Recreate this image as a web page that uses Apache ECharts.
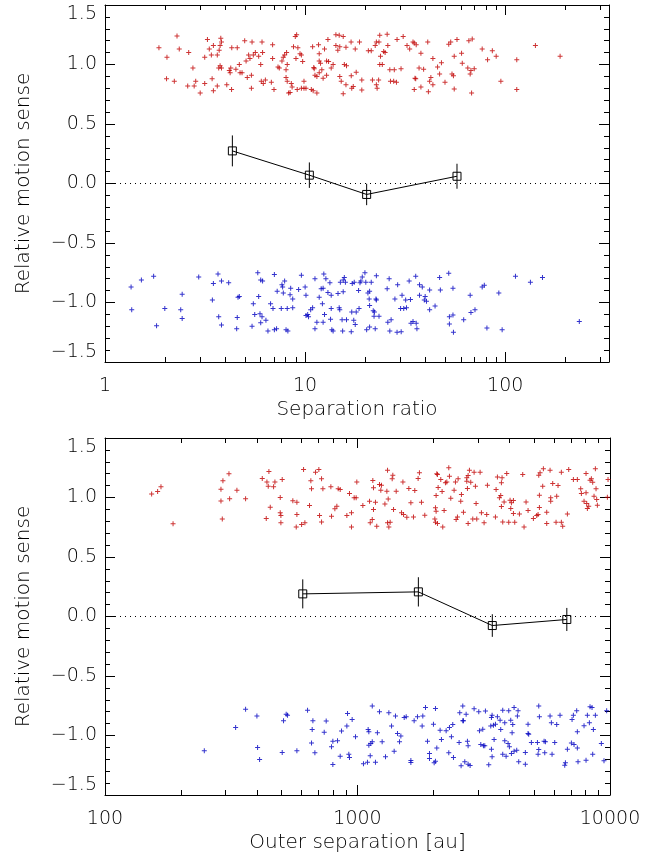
<!DOCTYPE html>
<html><head><meta charset="utf-8">
<script src="https://cdn.jsdelivr.net/npm/echarts@6/dist/echarts.min.js"></script>
<style>html,body{margin:0;padding:0;background:#fff}#c{width:667px;height:860px}</style>
</head><body><div id="c"></div>
<script>
// ---------- data ----------
const yTickValues = [-1.5, -1, -0.5, 0, 0.5, 1, 1.5];
const topXTicks = [1, 10, 100];
const topXMinor = [2,3,4,5,6,7,8,9,20,30,40,50,60,70,80,90,200,300];
const botXTicks = [100, 1000, 10000];
const botXMinor = [200,300,400,500,600,700,800,900,2000,3000,4000,5000,6000,7000,8000,9000];
const topXTitle = 'Separation ratio';
const botXTitle = 'Outer separation [au]';
const yTitle = 'Relative motion sense';

const topBinX = [4.33, 10.5, 20.3, 57.4];
const topBinY = [0.274, 0.07, -0.092, 0.061];
const topBinErr = [0.13, 0.107, 0.09, 0.105];
const botBinX = [607, 1742, 3419, 6745];
const botBinY = [0.19, 0.207, -0.076, -0.025];
const botBinErr = [0.122, 0.123, 0.095, 0.097];

const topRed = [[1.86,1.14],[2.29,1.24],[2.04,1.06],[2.35,1.13],[2.03,0.88],[2.22,0.86],[2.62,1.10],[2.59,0.82],[2.75,0.97],[2.79,0.82],[2.84,0.86],[2.99,0.76],[3.15,1.06],[3.15,0.84],[3.25,1.21],[3.32,1.13],[3.43,0.88],[3.40,1.08],[3.48,1.16],[3.48,0.78],[3.64,1.08],[3.64,0.82],[3.70,0.97],[3.72,1.12],[3.76,1.16],[3.79,1.22],[3.82,1.19],[3.76,0.99],[3.82,0.97],[4.06,0.83],[4.18,0.95],[4.22,0.93],[4.25,0.97],[4.29,0.79],[4.30,1.14],[4.51,0.96],[4.58,1.14],[4.69,1.00],[4.73,0.93],[4.84,0.93],[4.99,1.20],[5.07,1.03],[5.14,0.89],[5.22,1.08],[5.30,1.05],[5.39,0.80],[5.43,1.19],[5.51,1.08],[5.39,0.91],[5.64,1.10],[5.86,1.07],[6.00,1.00],[6.04,0.86],[6.09,1.19],[6.13,1.10],[6.33,0.87],[6.18,0.84],[6.78,0.85],[6.88,1.165],[6.88,1.05],[6.99,0.79],[7.32,0.98],[7.43,0.97],[7.66,1.03],[7.78,1.06],[7.90,1.08],[8.03,0.955],[8.08,1.10],[8.14,1.00],[8.03,0.89],[8.14,0.86],[8.27,0.76],[8.53,0.84],[8.41,0.765],[8.61,0.81],[8.75,1.15],[8.93,1.235],[9.07,1.25],[9.0,1.05],[9.2,1.14],[9.43,1.09],[9.58,1.08],[9.72,1.025],[9.87,0.86],[9.13,0.79],[9.58,0.80],[9.87,0.80],[10.1,0.80],[10.74,0.79],[10.97,0.78],[11.45,0.76],[10.9,1.15],[11.05,0.975],[11.1,0.965],[11.2,0.91],[11.45,0.90],[11.67,1.165],[11.76,1.09],[11.76,1.03],[11.76,0.93],[11.94,1.01],[12.12,0.955],[12.3,0.885],[12.5,1.13],[12.8,1.03],[12.8,0.91],[13.0,1.21],[13.1,1.025],[13.5,0.97],[13.8,1.00],[14.25,1.25],[14.25,1.16],[14.57,1.12],[14.8,1.245],[14.9,1.15],[14.9,0.90],[15.15,0.86],[15.5,1.235],[15.5,0.755],[15.7,1.00],[16.0,1.145],[16.0,0.83],[16.1,0.99],[16.97,1.19],[17.1,0.80],[17.0,0.905],[17.4,0.815],[17.8,1.13],[18.0,0.935],[18.7,1.19],[19.2,0.87],[19.2,0.785],[20.7,1.115],[21.4,1.115],[21.7,0.87],[22.4,1.16],[22.7,1.19],[22.7,0.83],[22.9,0.80],[23.3,0.87],[23.6,1.245],[23.4,1.19],[23.8,1.07],[23.6,1.00],[24.3,1.00],[24.7,1.11],[25.1,1.10],[25.7,1.255],[25.9,1.16],[26.5,0.955],[26.7,0.86],[27.7,0.86],[27.9,0.955],[28.6,0.85],[28.8,1.21],[30.15,0.965],[30.9,1.235],[32.3,1.16],[33.3,1.13],[34.6,1.19],[35.1,1.18],[35.4,0.885],[35.7,0.88],[35.9,1.165],[35.1,0.79],[37.1,0.97],[37.9,1.095],[37.9,0.81],[39.1,0.96],[41.0,1.19],[41.3,0.77],[41.9,0.86],[42.5,0.89],[43.5,0.83],[43.5,1.05],[45.9,0.98],[47.0,0.92],[48.0,1.015],[50.0,0.85],[52.2,1.17],[53.4,1.19],[54.2,0.92],[55.1,0.905],[55.6,1.07],[55.6,0.795],[57.4,1.21],[60.5,1.095],[61.0,1.01],[65.0,0.97],[65.8,1.20],[66.8,0.92],[67.4,0.95],[68.4,1.215],[70.0,0.965],[67.9,0.76],[76.7,1.13],[81.6,1.04],[86.2,1.115],[90.1,1.07],[95.1,0.86],[114.2,1.04],[114.2,0.79],[141.5,1.16],[188,1.07]];

const topBlue = [[1.35,-0.87],[1.36,-1.06],[1.52,-0.81],[1.75,-0.78],[1.81,-1.195],[1.99,-1.05],[2.39,-1.06],[2.43,-0.93],[2.43,-1.135],[2.94,-0.785],[3.44,-0.98],[3.48,-0.84],[3.67,-0.76],[3.70,-1.12],[3.82,-0.82],[3.82,-1.19],[4.15,-0.835],[4.55,-1.22],[4.58,-1.125],[4.62,-0.955],[4.69,-0.95],[5.43,-1.20],[5.51,-1.01],[5.60,-1.10],[5.80,-0.75],[5.86,-0.95],[5.95,-1.095],[6.00,-0.81],[6.00,-1.17],[6.13,-0.82],[6.09,-1.12],[6.37,-1.15],[6.52,-1.24],[6.72,-1.01],[6.91,-1.05],[7.02,-1.23],[7.02,-0.765],[7.2,-1.22],[7.25,-0.905],[7.6,-1.05],[7.66,-0.85],[7.72,-0.87],[7.78,-0.92],[7.9,-0.82],[8.03,-1.23],[8.14,-1.05],[8.2,-1.24],[8.41,-0.935],[8.47,-0.88],[8.67,-0.97],[8.67,-1.045],[9.28,-0.89],[9.58,-0.77],[10.0,-0.87],[10.1,-0.94],[10.1,-1.11],[10.3,-1.10],[10.4,-1.12],[10.66,-1.06],[10.9,-1.045],[11.2,-0.80],[11.2,-1.22],[11.45,-1.165],[11.76,-0.955],[12.03,-0.885],[12.2,-1.01],[12.3,-1.165],[12.4,-0.76],[12.5,-1.10],[12.3,-0.88],[12.7,-0.80],[13.0,-0.915],[13.3,-0.835],[13.4,-1.14],[13.5,-0.94],[13.5,-1.05],[13.6,-1.23],[13.8,-1.24],[14.6,-0.925],[14.8,-1.045],[14.9,-1.06],[15.0,-0.83],[15.3,-1.145],[15.4,-1.24],[15.5,-0.91],[15.5,-0.81],[15.7,-0.79],[15.9,-0.83],[16.1,-1.145],[17.0,-1.245],[17.1,-1.08],[17.2,-0.84],[17.5,-1.15],[17.6,-0.83],[17.8,-1.185],[18.0,-1.08],[18.5,-0.90],[18.6,-1.05],[18.8,-0.835],[19.0,-0.82],[19.3,-0.785],[19.9,-0.75],[20.1,-0.83],[20.3,-1.23],[20.6,-0.92],[20.9,-0.97],[21.0,-0.905],[21.0,-1.025],[21.0,-1.205],[21.4,-0.83],[21.9,-1.07],[22.1,-1.115],[22.2,-1.08],[22.4,-1.22],[22.6,-0.97],[22.7,-0.98],[22.7,-0.775],[23.4,-1.115],[25.7,-0.885],[25.9,-1.165],[26.3,-0.80],[26.5,-1.24],[26.9,-1.145],[28.1,-0.97],[28.8,-1.25],[29.0,-0.85],[30.0,-1.05],[30.2,-1.245],[30.5,-0.94],[31.1,-1.05],[31.8,-0.98],[32.1,-1.045],[33.1,-0.82],[33.6,-0.975],[33.8,-1.175],[34.6,-1.16],[35.7,-0.78],[35.9,-1.175],[36.2,-1.22],[37.3,-0.94],[37.3,-0.85],[38.5,-0.87],[39.4,-0.98],[39.8,-0.95],[40.4,-0.99],[41.9,-1.06],[41.9,-0.895],[44.6,-1.03],[47.0,-0.79],[47.4,-0.895],[52.2,-0.755],[52.6,-1.12],[52.6,-1.18],[54.8,-0.88],[55.1,-1.25],[54.8,-1.105],[62.0,-1.145],[66.8,-0.94],[67.4,-1.085],[70.6,-1.06],[76.7,-0.87],[78.6,-0.855],[81.0,-1.215],[92.9,-0.92],[96.5,-1.23],[112.5,-0.78],[133.6,-0.83],[153.5,-0.79],[234.5,-1.16]];

const botRed = [[153,1.03],[161.6,1.05],[166.6,1.09],[186,0.78],[287.9,1.07],[287.9,0.97],[291.4,0.82],[293.1,1.14],[309.7,1.20],[311.6,0.99],[333,1.06],[360.4,0.99],[419.6,1.16],[437.8,1.13],[443.1,1.095],[445.8,1.218],[451.3,0.918],[435.1,0.823],[465.2,1.09],[470.9,1.13],[494.3,1.0],[494.3,0.871],[497.3,0.848],[497.3,0.787],[503.3,1.151],[554.5,0.972],[571.9,0.753],[575.4,0.96],[575.4,0.857],[600.6,0.773],[611.5,1.235],[618.9,0.787],[645.6,0.932],[653.5,1.14],[657.5,1.073],[682,1.213],[703,1.235],[707.4,0.848],[720.5,1.157],[720.5,0.795],[729.3,1.073],[784.4,1.09],[789.1,0.843],[813.5,0.905],[828.4,0.927],[838.6,1.073],[854,1.067],[907.5,0.848],[929.6,1.033],[946.6,0.753],[946.6,0.871],[970,0.997],[987.8,0.997],[993.8,1.131],[1050,0.932],[1116,0.969],[1123,0.787],[1144,0.815],[1150,1.143],[1157,1.081],[1157,0.899],[1178,0.96],[1192,0.759],[1222,1.109],[1237,1.061],[1244,1.103],[1284,0.946],[1307,1.053],[1315,0.787],[1323,0.988],[1331,0.753],[1347,0.792],[1315,1.229],[1372,1.157],[1380,1.187],[1389,0.899],[1423,1.053],[1494,0.871],[1513,1.131],[1522,0.857],[1568,0.834],[1597,1.075],[1627,0.955],[1666,0.837],[1686,1.059],[1738,1.159],[1759,1.207],[1792,0.96],[1847,0.851],[2048,1.017],[2061,1.199],[2073,1.193],[2086,1.084],[2036,0.913],[2048,0.885],[2024,0.82],[2036,0.792],[2073,0.781],[2137,1.151],[2163,1.05],[2176,0.753],[2203,0.89],[2230,1.123],[2258,1.131],[2299,1.249],[2313,1.179],[2341,0.994],[2413,1.061],[2443,1.131],[2458,0.815],[2488,0.837],[2503,1.157],[2564,0.969],[2580,1.025],[2628,0.876],[2709,1.165],[2709,1.137],[2725,1.075],[2742,1.185],[2742,0.781],[2775,1.229],[2809,1.129],[2861,0.82],[2896,1.213],[2931,1.095],[2949,0.949],[2967,0.82],[3059,1.213],[3096,0.871],[3172,0.787],[3249,0.857],[3270,1.103],[3518,0.837],[3539,1.067],[3582,1.173],[3648,0.997],[3692,1.017],[3715,1.123],[3715,0.924],[3737,1.165],[3760,0.795],[3807,0.963],[3900,1.201],[3972,0.792],[4020,0.977],[4045,0.907],[4070,0.955],[4145,0.975],[4145,0.865],[4195,0.792],[4378,0.862],[4512,1.193],[4567,0.753],[4651,0.963],[4737,0.89],[4973,0.823],[5127,0.848],[5190,0.857],[5222,1.187],[5253,1.019],[5253,0.916],[5285,1.207],[5414,1.095],[5447,1.241],[5616,0.876],[5616,0.781],[5789,1.229],[5824,0.997],[5824,0.969],[5931,1.117],[6114,0.792],[6151,1.011],[6226,1.101],[6417,1.213],[6417,0.792],[6496,0.759],[6780,0.862],[6863,1.235],[7161,1.151],[7424,1.151],[7656,1.073],[7703,1.033],[7892,0.969],[8037,1.201],[8037,1.039],[8086,0.949],[8136,0.907],[8236,0.927],[8336,1.145],[8438,1.157],[8541,1.129],[8645,1.011],[8751,1.241],[8804,1.073],[8858,0.983],[8912,0.935],[9823,1.151],[9763,1.003]];

const botBlue = [[247.3,-1.129],[329.1,-0.933],[360.4,-0.779],[399.6,-0.837],[402.1,-1.101],[409.5,-1.202],[503.3,-1.143],[509.4,-0.877],[521.9,-0.821],[528.3,-0.829],[575.4,-1.129],[634.1,-0.787],[657.5,-1.062],[661.5,-0.949],[665.8,-0.877],[678,-1.146],[751.6,-0.879],[738.2,-0.972],[789.1,-1.095],[798.7,-1.244],[798.7,-1.048],[833.5,-1.045],[854,-1.174],[864.4,-0.963],[907.5,-0.921],[913,-0.815],[924,-1.157],[929.6,-1.185],[952.4,-0.865],[982,-1.011],[1056,-1.238],[1095,-1.224],[1102,-0.949],[1109,-0.969],[1109,-1.081],[1123,-1.171],[1129,-1.067],[1144,-0.753],[1144,-1.053],[1178,-1.224],[1199,-0.977],[1222,-0.801],[1252,-1.053],[1291,-1.179],[1331,-0.809],[1364,-0.921],[1397,-1.132],[1414,-0.837],[1440,-0.983],[1467,-1.053],[1485,-1.005],[1531,-0.849],[1559,-0.843],[1627,-1.21],[1627,-1.227],[1676,-0.877],[1728,-0.843],[1814,-0.837],[1803,-0.921],[1859,-0.765],[1893,-1.048],[1928,-1.151],[1928,-1.193],[1999,-0.905],[2012,-1.23],[2036,-0.773],[2036,-1.216],[2061,-1.104],[2124,-0.955],[2150,-1.034],[2244,-0.961],[2299,-1.146],[2313,-0.933],[2355,-1.011],[2384,-0.907],[2399,-1.185],[2541,-0.809],[2526,-1.059],[2572,-1.255],[2612,-0.877],[2612,-0.753],[2628,-0.877],[2660,-1.221],[2693,-0.821],[2725,-1.048],[2742,-1.087],[2742,-1.241],[2792,-1.252],[2896,-0.776],[3022,-0.801],[3041,-0.961],[3078,-1.076],[3134,-0.947],[3153,-1.087],[3192,-1.087],[3211,-0.795],[3310,-1.246],[3392,-0.849],[3371,-0.921],[3392,-1.115],[3412,-0.829],[3412,-1.179],[3454,-0.913],[3475,-1.034],[3518,-0.905],[3582,-0.843],[3670,-0.871],[3692,-0.949],[3760,-1.157],[3760,-0.787],[3830,-0.893],[3830,-1.045],[3877,-1.174],[3948,-1.067],[3972,-0.793],[3996,-1.095],[4045,-0.871],[4070,-1.151],[4095,-0.977],[4120,-0.907],[4170,-1.132],[4170,-0.765],[4272,-1.123],[4298,-0.837],[4324,-0.793],[4350,-1.221],[4621,-1.143],[4621,-1.241],[4736,-0.905],[4736,-0.983],[4765,-0.989],[4883,-1.059],[5159,-1.059],[5190,-1.157],[5222,-1.118],[5222,-0.753],[5253,-0.843],[5482,-1.048],[5515,-1.146],[5549,-1.053],[5789,-0.837],[5859,-0.893],[5895,-1.157],[6041,-1.059],[6151,-0.907],[6340,-0.829],[6618,-1.249],[6659,-1.23],[6780,-1.115],[7032,-1.062],[7075,-0.865],[7161,-0.829],[7204,-1.076],[7381,-0.793],[7424,-1.104],[7424,-0.969],[7470,-1.221],[7892,-0.919],[8037,-1.207],[8136,-0.829],[8286,-0.893],[8336,-0.759],[8489,-0.765],[8541,-1.157],[8593,-0.949],[8751,-0.829],[9242,-1.067],[9467,-1.213],[9700,-0.793]];

// ---------- chart ----------
const FONT = "'DejaVu Sans', 'Liberation Sans', sans-serif";
const WEIGHT = 200;
const TXT = '#000';
const RED = '#c00000';
const BLUE = '#0000c0';
const PLUS = 'path://M2,0H3V2H5V3H3V5H2V3H0V2H2Z';

function xAxes(gridIndex, min, max, major, minor, name) {
  const base = {type: 'log', logBase: 10, min: min, max: max, gridIndex: gridIndex,
    splitLine: {show: false}, splitArea: {show: false}};
  const line = {show: true, onZero: false, lineStyle: {color: '#000', width: 1}};
  const noLine = {show: false, onZero: false};
  return [
    Object.assign({}, base, {position: 'bottom', axisLine: line,
      axisTick: {show: true, inside: true, length: 10, customValues: major, lineStyle: {color: '#000'}},
      axisLabel: {show: true, customValues: major, margin: 15, formatter: function (v) { return String(Math.round(v)); },
        fontFamily: FONT, fontWeight: WEIGHT, fontSize: 19, color: TXT},
      name: name, nameLocation: 'middle', nameGap: 38,
      nameTextStyle: {fontFamily: FONT, fontWeight: WEIGHT, fontSize: 20, color: TXT}}),
    Object.assign({}, base, {position: 'top', axisLine: line,
      axisTick: {show: true, inside: true, length: 10, customValues: major, lineStyle: {color: '#000'}},
      axisLabel: {show: false}}),
    Object.assign({}, base, {position: 'bottom', axisLine: noLine,
      axisTick: {show: true, inside: true, length: 5, customValues: minor, lineStyle: {color: '#000'}},
      axisLabel: {show: false}}),
    Object.assign({}, base, {position: 'top', axisLine: noLine,
      axisTick: {show: true, inside: true, length: 5, customValues: minor, lineStyle: {color: '#000'}},
      axisLabel: {show: false}})
  ];
}

function yLabel(v) {
  return (v < 0 ? '\u2212' : '') + Math.abs(v).toFixed(1);
}

function yAxes(gridIndex) {
  const base = {type: 'value', min: yTickValues[0], max: yTickValues[yTickValues.length - 1], interval: 0.5,
    gridIndex: gridIndex, splitLine: {show: false},
    axisLine: {show: true, onZero: false, lineStyle: {color: '#000', width: 1}},
    axisTick: {show: true, inside: true, length: 10, lineStyle: {color: '#000'}},
    minorTick: {show: true, splitNumber: 5, length: 5, lineStyle: {color: '#000'}}};
  return [
    Object.assign({}, base, {position: 'left',
      axisLabel: {show: true, margin: 8, formatter: yLabel, fontFamily: FONT, fontWeight: WEIGHT, fontSize: 19, color: TXT,
        verticalAlignMinLabel: 'bottom', verticalAlignMaxLabel: 'top'},
      name: yTitle, nameLocation: 'middle', nameGap: 71, nameRotate: 90,
      nameTextStyle: {fontFamily: FONT, fontWeight: WEIGHT, fontSize: 20, color: TXT}}),
    Object.assign({}, base, {position: 'right', axisLabel: {show: false}})
  ];
}

function panelSeries(xi, yi, red, blue, bx, by, be) {
  return [
    {type: 'scatter', xAxisIndex: xi, yAxisIndex: yi, data: red, symbol: PLUS, symbolSize: 5,
      itemStyle: {color: RED}, silent: true, z: 2},
    {type: 'scatter', xAxisIndex: xi, yAxisIndex: yi, data: blue, symbol: PLUS, symbolSize: 5,
      itemStyle: {color: BLUE}, silent: true, z: 2},
    {type: 'custom', xAxisIndex: xi, yAxisIndex: yi, silent: true, z: 3,
      data: bx.map(function (x, i) { return [x, by[i] - be[i], by[i] + be[i]]; }),
      renderItem: function (params, api) {
        const p1 = api.coord([api.value(0), api.value(1)]);
        const p2 = api.coord([api.value(0), api.value(2)]);
        return {type: 'line', shape: {x1: p1[0], y1: p1[1], x2: p2[0], y2: p2[1]},
          style: {stroke: '#000', lineWidth: 1}};
      }},
    {type: 'line', xAxisIndex: xi, yAxisIndex: yi, silent: true, z: 4,
      data: bx.map(function (x, i) { return [x, by[i]]; }),
      symbol: 'rect', symbolSize: 8, showSymbol: true,
      itemStyle: {color: 'rgba(0,0,0,0)', borderColor: '#000', borderWidth: 1},
      lineStyle: {color: '#000', width: 1},
      markLine: {silent: true, symbol: 'none', label: {show: false},
        lineStyle: {color: '#000', width: 1, type: [1, 4]},
        data: [{yAxis: 0}]}}
  ];
}

const chart = echarts.init(document.getElementById('c'), null, {renderer: 'canvas'});
chart.setOption({
  animation: false,
  backgroundColor: '#fff',
  grid: [
    {left: 105, top: 5, width: 504, height: 357},
    {left: 105, top: 438, width: 505, height: 357}
  ],
  xAxis: xAxes(0, 1, 330, topXTicks, topXMinor, topXTitle)
    .concat(xAxes(1, 100, 10000, botXTicks, botXMinor, botXTitle)),
  yAxis: yAxes(0).concat(yAxes(1)),
  series: panelSeries(0, 0, topRed, topBlue, topBinX, topBinY, topBinErr)
    .concat(panelSeries(4, 2, botRed, botBlue, botBinX, botBinY, botBinErr))
});
</script>
</body></html>
